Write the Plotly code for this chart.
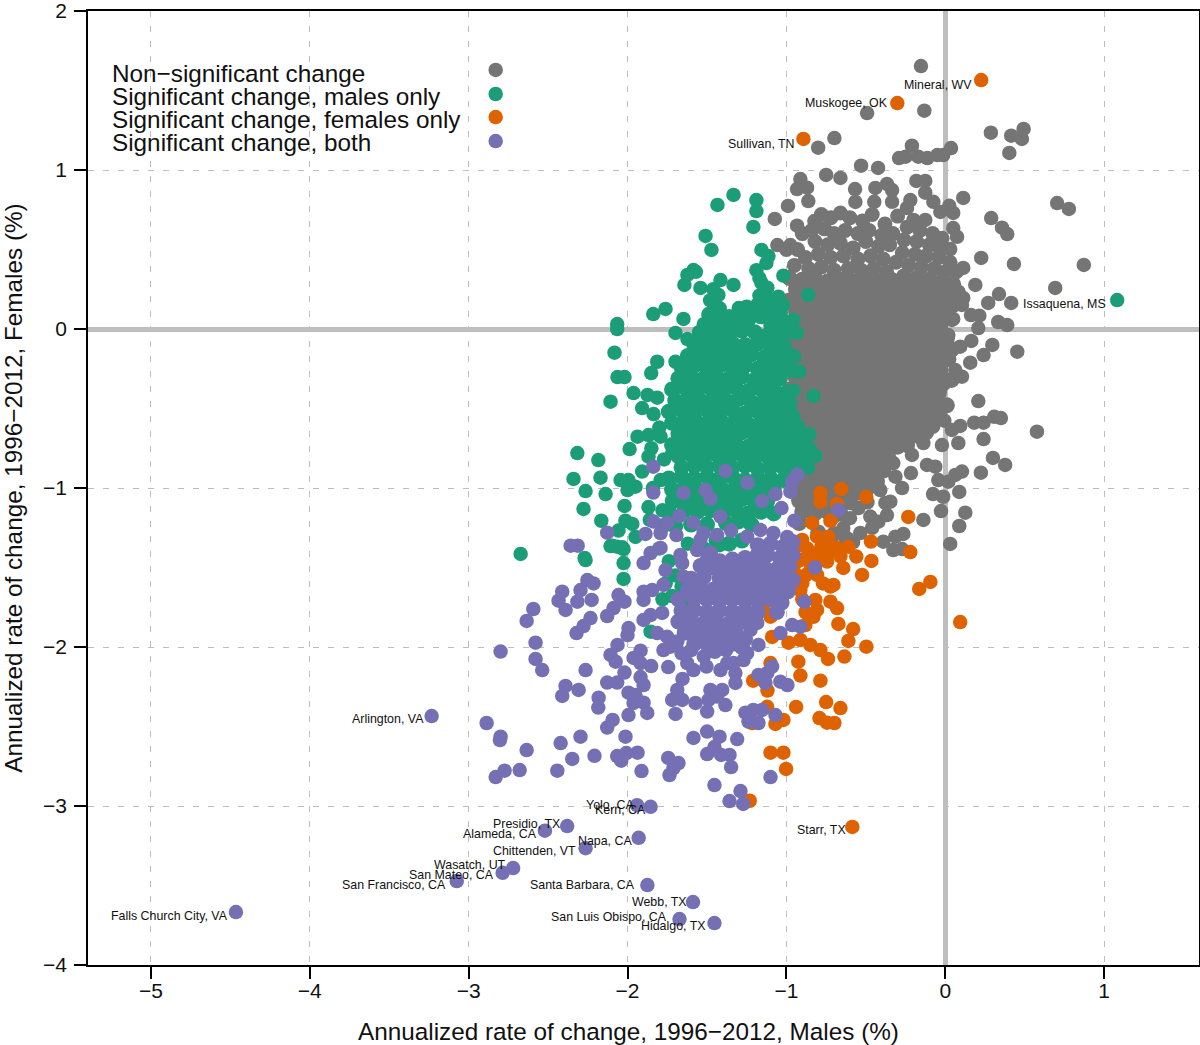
import plotly.graph_objects as go

# Non-significant change: scattered counties around the outside of the cloud
grey_outer = [
(-0.153,1.654),(-0.132,1.373),(-0.492,1.358),(-0.698,1.201),(-0.80,1.14),(-0.21,1.153),(-0.291,1.075),(-0.25,1.084),
(-0.17,1.084),(-0.113,1.075),(-0.05,1.094),(-0.013,1.094),(0.036,1.138),(0.287,1.235),(0.415,1.216),(0.493,1.258),
(0.482,1.195),(0.403,1.107),(-0.53,1.027),(-0.423,1.013),(-0.75,0.969),(-0.66,0.95),(-0.912,0.943),(-0.87,0.889),
(-0.933,0.88),(-0.862,0.805),(-0.99,0.774),(-1.073,0.692),(-0.568,0.88),(-0.566,0.799),(-0.44,0.887),(-0.367,0.912),
(-0.335,0.874),(-0.335,0.80),(-0.447,0.80),(-0.182,0.931),(-0.126,0.931),(-0.126,0.857),(-0.075,0.80),(-0.22,0.811),
(-0.241,0.761),(0.025,0.775),(-0.031,0.736),(0.05,0.73),(0.113,0.824),(-0.824,0.679),(-0.933,0.65),(-0.20,0.686),
(-0.126,0.686),(0.289,0.698),(0.357,0.637),(0.39,0.597),(0.704,0.792),(0.778,0.755),(0.226,0.447),(0.432,0.409),
(0.872,0.403),(0.692,0.258),(0.189,0.277),(0.338,0.22),(0.27,0.164),(0.415,0.164),(0.162,0.088),(0.214,0.084),
(0.208,0.006),(0.333,0.044),(0.39,0.025),(0.05,0.063),(0.019,-0.038),(0.113,0.195),(0.105,0.151),(0.113,0.384),
(0.05,0.635),(0.074,0.58),(0.031,0.503),(-0.044,0.516),(0.164,-0.075),(0.296,-0.10),(0.241,-0.164),(0.453,-0.143),
(0.105,-0.30),(0.063,-0.258),(0.157,-0.212),(0.094,-0.111),(0.042,0.057),(0.208,-0.453),(0.182,-0.589),(0.241,-0.589),
(0.308,-0.552),(0.35,-0.56),(0.577,-0.646),(0.241,-0.692),(0.30,-0.811),(0.377,-0.855),(0.224,-0.904),(-0.021,-0.73),
(-0.006,-0.577),(0.094,-0.61),(0.042,-0.635),(0.082,-0.717),(-0.115,-0.855),(-0.063,-0.866),(0.105,-0.897),(0.063,-0.918),
(0.019,-0.96),(-0.044,-0.95),(0.088,-1.025),(0.126,-1.155),(0.088,-1.239),(0.031,-1.352),(-0.027,-1.145),(-0.138,-1.201),
(-0.077,-1.038),(-0.013,-1.055),(-0.216,-0.906),(-0.272,-1.0),(-0.314,-0.929),(-0.21,-0.792),(-0.138,-0.717),(-0.264,-1.289),
(-0.314,-1.306),(-0.272,-1.384),(-0.327,-1.39),(-0.39,-1.338),(-0.377,-1.094),(-0.346,-1.086),(-0.367,-1.17),(-0.421,-1.212),
(-0.472,-1.18),(-0.547,-1.126),(-0.642,-1.252),(-0.535,-1.283),(-0.409,-1.013),(-0.492,-1.013),(-0.327,-0.843),
(-0.49,-1.09),(-0.60,-1.19),(-0.70,-1.18),(-0.46,-1.25),(-0.58,-1.34),(-1.057,0.528),(-0.975,0.528),
]

# Non-significant change: the looser upper part of the cloud
grey_top = [
(-0.78,0.72),(-0.72,0.70),(-0.66,0.73),(-0.60,0.70),(-0.52,0.68),(-0.46,0.72),(-0.38,0.66),(-0.30,0.71),(-0.24,0.64),(-0.16,0.62),
(-0.08,0.60),(-0.90,0.60),(-0.84,0.62),(-0.76,0.63),(-0.70,0.60),(-0.63,0.62),(-0.55,0.60),(-0.48,0.62),(-0.40,0.59),(-0.33,0.60),
(-0.26,0.56),(-0.18,0.55),(-0.10,0.53),(-0.02,0.57),(-1.00,0.50),(-0.93,0.50),(-0.82,0.55),(-0.74,0.53),(-0.66,0.54),(-0.58,0.51),
(-0.50,0.55),(-0.42,0.52),(-0.35,0.53),(-0.27,0.48),(-0.19,0.47),(-0.12,0.46),(-0.04,0.45),(0.03,0.42),(-0.88,0.45),(-0.80,0.47),
(-0.72,0.45),(-0.64,0.46),(-0.55,0.44),(-0.47,0.46),(-0.39,0.44),(-0.31,0.42),(-0.23,0.40),(-0.15,0.39),(-0.07,0.38),(0.00,0.36),
(0.07,0.36),(-0.95,0.40),(-0.86,0.38),(-0.78,0.39),(-0.70,0.37),(-0.61,0.38),(-0.53,0.37),(-0.45,0.38),(-0.37,0.36),
]

# Non-significant change: the solid centre of the cloud
grey_core = [
(-0.98,0.32),(-0.90,0.31),(-0.82,0.32),(-0.74,0.30),(-0.66,0.31),(-0.58,0.30),(-0.50,0.31),(-0.42,0.30),(-0.34,0.31),(-0.26,0.33),(-0.18,0.32),(-0.10,0.31),(-0.02,0.30),(0.05,0.28),
(-0.94,0.25),(-0.86,0.24),(-0.78,0.25),(-0.70,0.24),(-0.62,0.24),(-0.54,0.23),(-0.46,0.24),(-0.38,0.23),(-0.30,0.25),(-0.22,0.25),(-0.14,0.24),(-0.06,0.24),(0.02,0.22),(0.08,0.23),
(-0.98,0.18),(-0.90,0.17),(-0.82,0.18),(-0.74,0.17),(-0.66,0.17),(-0.58,0.16),(-0.50,0.17),(-0.42,0.16),(-0.34,0.17),(-0.26,0.18),(-0.18,0.17),(-0.10,0.17),(-0.02,0.16),(0.05,0.15),
(-0.94,0.11),(-0.86,0.10),(-0.78,0.11),(-0.70,0.10),(-0.62,0.10),(-0.54,0.09),(-0.46,0.10),(-0.38,0.09),(-0.30,0.10),(-0.22,0.11),(-0.14,0.10),(-0.06,0.10),(0.01,0.09),
(-0.98,0.04),(-0.90,0.03),(-0.82,0.04),(-0.74,0.03),(-0.66,0.03),(-0.58,0.02),(-0.50,0.03),(-0.42,0.02),(-0.34,0.03),(-0.26,0.04),(-0.18,0.03),(-0.10,0.03),(-0.03,0.02),
(-0.94,-0.03),(-0.86,-0.04),(-0.78,-0.03),(-0.70,-0.04),(-0.62,-0.04),(-0.54,-0.05),(-0.46,-0.04),(-0.38,-0.05),(-0.30,-0.04),(-0.22,-0.03),(-0.14,-0.04),(-0.06,-0.04),(0.01,-0.06),
(-0.98,-0.10),(-0.90,-0.11),(-0.82,-0.10),(-0.74,-0.11),(-0.66,-0.11),(-0.58,-0.12),(-0.50,-0.11),(-0.42,-0.12),(-0.34,-0.11),(-0.26,-0.10),(-0.18,-0.11),(-0.10,-0.11),(-0.03,-0.12),(0.04,-0.13),
(-0.94,-0.17),(-0.86,-0.18),(-0.78,-0.17),(-0.70,-0.18),(-0.62,-0.18),(-0.54,-0.19),(-0.46,-0.18),(-0.38,-0.19),(-0.30,-0.18),(-0.22,-0.17),(-0.14,-0.18),(-0.06,-0.18),(0.02,-0.19),
(-0.98,-0.24),(-0.90,-0.25),(-0.82,-0.24),(-0.74,-0.25),(-0.66,-0.25),(-0.58,-0.26),(-0.50,-0.25),(-0.42,-0.26),(-0.34,-0.25),(-0.26,-0.24),(-0.18,-0.25),(-0.10,-0.25),(-0.03,-0.26),(0.04,-0.32),
(-0.94,-0.31),(-0.86,-0.32),(-0.78,-0.31),(-0.70,-0.32),(-0.62,-0.32),(-0.54,-0.33),(-0.46,-0.32),(-0.38,-0.33),(-0.30,-0.32),(-0.22,-0.31),(-0.14,-0.32),(-0.06,-0.32),(-0.01,-0.34),
(-0.98,-0.38),(-0.90,-0.39),(-0.82,-0.38),(-0.74,-0.39),(-0.66,-0.39),(-0.58,-0.40),(-0.50,-0.39),(-0.42,-0.40),(-0.34,-0.39),(-0.26,-0.38),(-0.18,-0.39),(-0.10,-0.39),(-0.04,-0.40),
(-0.94,-0.45),(-0.86,-0.46),(-0.78,-0.45),(-0.70,-0.46),(-0.62,-0.46),(-0.54,-0.47),(-0.46,-0.46),(-0.38,-0.47),(-0.30,-0.46),(-0.22,-0.45),(-0.14,-0.46),(-0.06,-0.47),(0.01,-0.48),
(-0.98,-0.52),(-0.90,-0.53),(-0.82,-0.52),(-0.74,-0.53),(-0.66,-0.53),(-0.58,-0.54),(-0.50,-0.53),(-0.42,-0.54),(-0.34,-0.53),(-0.26,-0.52),(-0.18,-0.53),(-0.10,-0.53),(-0.04,-0.53),
(-0.94,-0.59),(-0.86,-0.60),(-0.78,-0.59),(-0.70,-0.60),(-0.62,-0.60),(-0.54,-0.61),(-0.46,-0.60),(-0.38,-0.61),(-0.30,-0.60),(-0.22,-0.59),(-0.14,-0.60),(-0.08,-0.61),
(-0.98,-0.66),(-0.90,-0.67),(-0.82,-0.66),(-0.74,-0.67),(-0.66,-0.67),(-0.58,-0.68),(-0.50,-0.67),(-0.42,-0.68),(-0.34,-0.67),(-0.26,-0.66),(-0.18,-0.67),(-0.12,-0.65),
(-0.94,-0.73),(-0.86,-0.74),(-0.78,-0.73),(-0.70,-0.74),(-0.62,-0.74),(-0.54,-0.75),(-0.46,-0.74),(-0.38,-0.75),(-0.30,-0.74),(-0.24,-0.73),
(-0.98,-0.80),(-0.90,-0.81),(-0.82,-0.80),(-0.74,-0.81),(-0.66,-0.81),(-0.58,-0.82),(-0.50,-0.81),(-0.42,-0.82),(-0.36,-0.80),
(-0.94,-0.87),(-0.86,-0.88),(-0.78,-0.87),(-0.70,-0.88),(-0.62,-0.88),(-0.54,-0.89),(-0.46,-0.88),(-0.39,-0.89),
(-0.98,-0.94),(-0.90,-0.95),(-0.82,-0.94),(-0.74,-0.95),(-0.66,-0.95),(-0.58,-0.96),(-0.50,-0.95),(-0.43,-0.96),
(-0.94,-1.01),(-0.86,-1.02),(-0.78,-1.01),(-0.70,-1.02),(-0.62,-1.02),(-0.55,-1.03),
(-0.92,-1.08),(-0.84,-1.09),(-0.76,-1.08),(-0.68,-1.09),(-0.60,-1.09),
(-0.90,-1.15),(-0.82,-1.16),(-0.74,-1.15),(-0.66,-1.16),(-0.92,-1.22),(-0.80,-1.28),(-0.70,-1.29),(-0.62,-1.32),
]

# Significant change, males only: scattered counties
green_outer = [
(-1.333,0.843),(-1.434,0.78),(-1.189,0.811),(-1.189,0.742),(-1.208,0.642),(-1.509,0.585),(-1.472,0.497),(-1.157,0.497),(-1.113,0.459),(-1.126,0.415),
(-1.189,0.37),(-1.157,0.29),(-1.019,0.335),(-1.05,0.203),(-0.862,0.214),(-0.956,0.057),(-1.10,0.025),(-1.415,0.308),(-1.333,0.277),(-1.428,0.214),(-1.49,0.094),
(-1.30,0.132),(-1.415,0.044),(-1.145,0.138),(-1.585,0.371),(-1.623,0.34),(-1.642,0.277),(-1.541,0.258),(-1.57,0.36),(-1.46,0.25),(-1.45,0.16),(-1.22,0.12),(-1.25,0.14),(-1.08,0.12),(-1.02,0.15),
(-1.838,0.094),(-1.761,0.126),(-2.065,0.031),(-2.065,0.0),(-2.082,-0.149),(-1.698,-0.025),(-1.648,0.063),(-1.623,-0.063),(-1.49,0.088),(-2.063,-0.302),(-2.019,-0.302),(-2.107,-0.457),
(-1.962,-0.403),(-1.874,-0.415),(-1.813,-0.432),(-1.908,-0.497),(-1.836,-0.535),(-1.813,-0.206),(-1.851,-0.277),(-1.698,-0.206),(-1.937,-0.677),(-1.868,-0.667),(-1.792,-0.677),(-1.719,-0.78),
(-1.987,-0.755),(-2.316,-0.78),(-2.184,-0.824),(-2.34,-0.943),(-2.17,-0.935),(-2.264,-1.019),(-2.138,-1.038),(-2.277,-1.132),(-2.019,-1.113),(-2.044,-0.95),(-1.994,-0.95),(-1.95,-0.992),(-2.0,-1.013),
(-1.868,-0.803),(-1.908,-0.897),(-2.165,-1.206),(-2.013,-1.206),(-1.97,-1.226),(-2.057,-1.268),(-1.95,-1.308),(-2.107,-1.365),(-2.065,-1.369),(-2.025,-1.384),(-2.27,-1.44),(-1.868,-1.12),(-1.792,-0.95),
(-2.673,-1.415),(-2.264,-1.453),(-2.096,-1.363),(-2.033,-1.373),(-2.025,-1.472),(-2.025,-1.572),(-1.855,-1.904),(-0.933,-0.025),(-0.995,-0.017),(-0.95,-0.174),(-0.918,-0.268),(-0.956,-0.388),
(-0.83,-0.421),(-0.925,-0.614),(-0.855,-0.66),(-0.818,-0.797),(-0.864,-0.874),(-1.85,-0.75),(-1.80,-0.62),(-1.77,-0.82),(-1.84,-1.0),(-1.72,-1.08),(-1.86,-1.2),(-1.78,-1.14),
(-1.48,0.18),(-1.42,0.13),(-1.36,0.08),(-1.30,0.05),(-1.24,0.13),(-1.17,0.21),(-1.12,0.26),(-1.17,0.32),(-1.09,0.07),(-1.03,0.03),(-0.97,-0.02),(-1.46,0.05),(-1.52,0.03),(-1.55,-0.02),(-1.44,0.10),
]

# Significant change, males only: the solid part of the cloud
green_core = [
(-1.40,0.03),(-1.32,0.05),(-1.24,0.06),(-1.16,0.08),(-1.28,0.10),(-1.18,0.15),(-1.10,0.18),(-1.04,0.10),(-1.00,0.04),
(-1.52,-0.03),(-1.44,-0.02),(-1.36,-0.03),(-1.28,-0.01),(-1.20,-0.02),(-1.12,-0.04),(-1.05,-0.03),
(-1.58,-0.10),(-1.50,-0.09),(-1.42,-0.10),(-1.34,-0.09),(-1.26,-0.10),(-1.18,-0.09),(-1.10,-0.11),(-1.02,-0.10),
(-1.62,-0.17),(-1.54,-0.16),(-1.46,-0.17),(-1.38,-0.16),(-1.30,-0.17),(-1.22,-0.16),(-1.14,-0.18),(-1.06,-0.17),(-0.99,-0.16),
(-1.66,-0.24),(-1.58,-0.23),(-1.50,-0.24),(-1.42,-0.23),(-1.34,-0.24),(-1.26,-0.23),(-1.18,-0.25),(-1.10,-0.24),(-1.02,-0.24),(-0.97,-0.26),
(-1.68,-0.31),(-1.60,-0.30),(-1.52,-0.31),(-1.44,-0.30),(-1.36,-0.31),(-1.28,-0.30),(-1.20,-0.32),(-1.12,-0.31),(-1.04,-0.31),
(-1.72,-0.38),(-1.64,-0.37),(-1.56,-0.38),(-1.48,-0.37),(-1.40,-0.38),(-1.32,-0.37),(-1.24,-0.39),(-1.16,-0.38),(-1.08,-0.38),(-1.00,-0.40),
(-1.70,-0.45),(-1.62,-0.44),(-1.54,-0.45),(-1.46,-0.44),(-1.38,-0.45),(-1.30,-0.44),(-1.22,-0.46),(-1.14,-0.45),(-1.06,-0.45),(-0.98,-0.47),
(-1.74,-0.52),(-1.66,-0.51),(-1.58,-0.52),(-1.50,-0.51),(-1.42,-0.52),(-1.34,-0.51),(-1.26,-0.53),(-1.18,-0.52),(-1.10,-0.52),(-1.02,-0.53),(-0.96,-0.55),
(-1.72,-0.59),(-1.64,-0.58),(-1.56,-0.59),(-1.48,-0.58),(-1.40,-0.59),(-1.32,-0.58),(-1.24,-0.60),(-1.16,-0.59),(-1.08,-0.59),(-1.00,-0.60),
(-1.68,-0.66),(-1.60,-0.65),(-1.52,-0.66),(-1.44,-0.65),(-1.36,-0.66),(-1.28,-0.65),(-1.20,-0.67),(-1.12,-0.66),(-1.04,-0.66),(-0.96,-0.67),(-0.90,-0.68),
(-1.72,-0.73),(-1.64,-0.72),(-1.56,-0.73),(-1.48,-0.72),(-1.40,-0.73),(-1.32,-0.72),(-1.24,-0.74),(-1.16,-0.73),(-1.08,-0.73),(-1.00,-0.74),(-0.92,-0.74),(-0.86,-0.75),
(-1.68,-0.80),(-1.60,-0.79),(-1.52,-0.80),(-1.44,-0.79),(-1.36,-0.80),(-1.28,-0.79),(-1.20,-0.81),(-1.12,-0.80),(-1.04,-0.80),(-0.96,-0.81),(-0.88,-0.81),
(-1.66,-0.87),(-1.58,-0.86),(-1.50,-0.87),(-1.42,-0.86),(-1.34,-0.87),(-1.26,-0.86),(-1.18,-0.88),(-1.10,-0.87),(-1.02,-0.87),(-0.94,-0.88),
(-1.74,-0.94),(-1.66,-0.93),(-1.58,-0.94),(-1.50,-0.93),(-1.42,-0.94),(-1.34,-0.93),(-1.26,-0.95),(-1.18,-0.94),(-1.10,-0.94),(-1.02,-0.95),
(-1.72,-1.01),(-1.64,-1.00),(-1.56,-1.01),(-1.48,-1.00),(-1.40,-1.01),(-1.32,-1.00),(-1.24,-1.02),(-1.16,-1.01),(-1.08,-1.01),
(-1.68,-1.08),(-1.60,-1.07),(-1.52,-1.08),(-1.44,-1.07),(-1.36,-1.08),(-1.28,-1.07),(-1.20,-1.09),(-1.12,-1.08),
(-1.74,-1.15),(-1.64,-1.14),(-1.56,-1.15),(-1.48,-1.14),(-1.40,-1.15),(-1.32,-1.14),(-1.24,-1.16),(-1.16,-1.15),(-1.08,-1.16),
(-1.78,-1.24),(-1.70,-1.24),(-1.60,-1.23),(-1.50,-1.23),(-1.38,-1.22),(-1.30,-1.21),(-1.22,-1.23),(-1.44,-1.33),(-1.36,-1.35),(-1.28,-1.33),
]

# Significant change, males only: narrow strips left of the purple cloud
green_strips = [
(-1.80,-1.38),(-1.74,-1.46),(-1.70,-1.55),(-1.76,-1.60),(-1.66,-1.62),(-1.62,-1.35),(-1.52,-1.38),(-1.42,-1.36),(-1.78,-1.70),(-1.72,-1.68),(-1.62,-1.70),
]

# Significant change, females only
orange_points = [
(-0.786,-1.031),(-0.786,-1.086),(-0.654,-1.006),(-0.681,-1.10),(-0.497,-1.057),(-0.838,-1.22),(-0.723,-1.206),(-0.233,-1.182),(-0.901,-1.327),(-0.912,-1.358),
(-0.807,-1.306),(-0.736,-1.306),(-0.468,-1.337),(-0.61,-1.369),(-0.56,-1.431),(-0.465,-1.459),(-0.22,-1.403),(-0.849,-1.409),(-0.786,-1.421),(-0.723,-1.401),
(-0.681,-1.377),(-0.912,-1.453),(-0.83,-1.472),(-0.744,-1.463),(-0.642,-1.503),(-0.524,-1.547),(-0.164,-1.635),(-0.094,-1.591),(0.094,-1.843),(-0.744,-1.369),
(-0.692,-1.39),(-0.933,-1.463),(-0.862,-1.535),(-0.807,-1.547),(-0.723,-1.62),(-0.704,-1.61),(-0.912,-1.642),(-0.818,-1.704),(-0.807,-1.767),(-0.83,-1.81),
(-0.723,-1.715),(-0.681,-1.755),(-0.881,-1.862),(-0.673,-1.855),(-0.58,-1.887),(-0.61,-1.962),(-0.497,-1.998),(-0.635,-2.06),(-1.10,-1.809),(-1.145,-1.767),
(-1.09,-1.937),(-0.987,-1.973),(-0.912,-1.956),(-0.849,-1.987),(-0.786,-2.019),(-0.738,-2.075),(-1.10,-2.101),(-1.209,-2.212),(-1.119,-2.274),(-0.925,-2.092),
(-0.912,-2.18),(-0.786,-2.212),(-0.939,-2.377),(-0.75,-2.346),(-0.66,-2.384),(-0.792,-2.447),(-0.744,-2.476),(-0.698,-2.478),(-1.121,-2.376),(-1.069,-2.484),
(-1.019,-2.459),(-1.216,-2.478),(-1.10,-2.665),(-1.019,-2.665),(-1.002,-2.767),(-1.231,-2.967),(-0.88,-1.55),(-0.90,-1.70),(-0.86,-1.43),(-0.77,-1.60),
(-0.87,-1.38),(-0.78,-1.37),(-0.95,-1.53),(-0.90,-1.60),(-0.85,-1.47),(-0.66,-1.43),(-0.88,-1.78),
]

# Significant change, both: scattered counties
purple_outer = [
(-2.799,-2.029),(-2.593,-1.761),(-2.635,-1.836),(-2.579,-1.973),(-2.579,-2.075),(-2.537,-2.145),(-2.358,-1.363),(-2.314,-1.363),(-2.411,-1.652),(-2.434,-1.709),
(-2.39,-1.767),(-2.316,-1.715),(-2.296,-1.642),(-2.253,-1.579),(-2.214,-1.6),(-2.226,-1.704),(-2.128,-1.805),(-2.088,-1.755),(-2.057,-1.673),(-2.019,-1.715),
(-2.233,-1.818),(-2.277,-1.868),(-2.321,-1.912),(-1.994,-1.881),(-2.0,-1.925),(-2.063,-1.987),(-2.107,-2.05),(-2.075,-2.092),(-2.019,-2.161),(-1.918,-2.023),
(-1.962,-2.069),(-1.918,-2.101),(-1.851,-2.12),(-1.744,-2.126),(-2.264,-2.145),(-2.128,-2.224),(-2.065,-2.224),(-1.918,-2.189),(-1.899,-2.239),(-2.39,-2.245),
(-2.411,-2.308),(-2.308,-2.27),(-1.994,-2.287),(-1.95,-2.302),(-1.962,-2.352),(-1.899,-2.35),(-1.876,-2.415),(-1.994,-2.428),(-2.182,-2.319),(-2.184,-2.381),
(-2.094,-2.459),(-2.128,-2.507),(-1.698,-2.421),(-2.013,-2.564),(-2.887,-2.478),(-2.799,-2.564),(-2.803,-2.585),(-2.635,-2.648),(-2.421,-2.604),(-2.296,-2.564),
(-2.348,-2.704),(-2.208,-2.684),(-2.442,-2.778),(-2.679,-2.774),(-2.774,-2.778),(-2.83,-2.818),(-2.065,-2.686),(-2.04,-2.715),(-2.008,-2.667),(-1.937,-2.665),
(-1.912,-2.78),(-1.744,-2.698),(-1.679,-2.73),(-1.711,-2.761),(-1.736,-2.805),(-1.585,-2.572),(-1.499,-2.532),(-1.421,-2.564),(-1.31,-2.579),(-1.499,-2.673),
(-1.453,-2.629),(-1.411,-2.679),(-1.358,-2.679),(-1.348,-2.755),(-1.453,-2.868),(-1.289,-2.906),(-1.358,-2.969),(-1.272,-2.987),(-1.10,-2.818),(-1.719,-2.333),
(-1.656,-2.333),(-1.687,-2.27),(-1.572,-2.352),(-1.478,-2.27),(-1.404,-2.27),(-1.384,-2.365),(-1.499,-2.406),(-1.49,-2.333),(-1.436,-2.312),(-1.654,-2.201),
(-1.624,-2.101),(-1.585,-2.145),(-1.503,-2.123),(-1.415,-2.145),(-1.373,-2.101),(-1.321,-2.226),(-1.321,-2.164),(-1.258,-2.413),(-1.208,-2.396),(-1.153,-2.396),
(-1.069,-2.428),(-1.239,-2.469),(-1.176,-2.478),(-1.176,-2.176),(-1.121,-2.164),(-1.09,-2.123),(-1.132,-2.226),(-1.038,-2.218),(-0.994,-2.239),(-1.038,-1.912),
(-0.964,-1.862),(-0.912,-1.872),(-0.887,-1.715),(-1.226,-1.893),(-1.176,-1.987),(-1.184,-1.849),(-1.247,-2.038),(-1.27,-2.082),(-1.333,-2.101),(-1.838,-0.866),
(-1.384,-0.893),(-1.245,-0.967),(-1.648,-1.031),(-1.838,-1.029),(-1.509,-1.013),(-1.478,-1.069),(-1.153,-1.082),(-1.069,-1.038),(-1.031,-1.126),(-0.975,-1.023),
(-0.964,-0.96),(-0.931,-0.916),(-0.95,-1.206),(-0.673,-1.138),(-1.673,-1.176),(-1.585,-1.218),(-1.415,-1.18),(-1.836,-1.211),(-1.75,-1.22),(-2.128,-1.281),
(-1.887,-1.289),(-1.792,-1.283),(-1.692,-1.296),(-1.522,-1.283),(-1.436,-1.296),(-1.348,-1.268),(-1.247,-1.306),(-1.164,-1.264),(-1.082,-1.283),(-0.995,-1.308),
(-1.899,-1.472),(-1.855,-1.409),(-1.792,-1.377),(-1.899,-1.704),(-1.899,-1.652),(-1.845,-1.642),(-1.774,-1.61),(-1.899,-1.83),(-1.855,-1.799),(-1.782,-1.786),
(-1.813,-1.912),(-1.75,-1.936),(-1.687,-1.966),(-1.774,-2.019),(-1.73,-1.998),(-1.667,-1.421),(-1.656,-1.472),(-1.648,-1.558),(-1.761,-1.516),(-1.541,-1.327),(-1.562,-1.39),
(-0.82,-1.50),(-1.66,-2.04),(-1.60,-2.02),(-1.45,-2.03),(-1.38,-2.02),(-1.52,-2.06),
]

# Significant change, both: the solid part of the cloud
purple_core = [
(-1.48,-1.41),(-1.18,-1.36),(-1.10,-1.35),(-1.02,-1.37),(-0.96,-1.34),
(-1.50,-1.46),(-1.42,-1.46),(-1.34,-1.45),(-1.26,-1.44),(-1.18,-1.42),(-1.12,-1.42),(-1.04,-1.44),(-0.96,-1.42),
(-1.54,-1.49),(-1.46,-1.50),(-1.38,-1.50),(-1.30,-1.51),(-1.22,-1.49),(-1.14,-1.50),(-1.06,-1.51),(-0.98,-1.49),
(-1.60,-1.57),(-1.52,-1.56),(-1.42,-1.57),(-1.34,-1.57),(-1.26,-1.56),(-1.18,-1.57),(-1.10,-1.58),(-1.02,-1.56),(-0.96,-1.58),
(-1.62,-1.64),(-1.54,-1.63),(-1.46,-1.64),(-1.38,-1.64),(-1.30,-1.63),(-1.22,-1.64),(-1.14,-1.65),(-1.06,-1.63),(-0.99,-1.65),
(-1.68,-1.70),(-1.58,-1.70),(-1.50,-1.70),(-1.42,-1.71),(-1.34,-1.70),(-1.26,-1.71),(-1.18,-1.71),(-1.10,-1.70),(-1.03,-1.72),
(-1.66,-1.77),(-1.58,-1.77),(-1.50,-1.78),(-1.42,-1.77),(-1.34,-1.78),(-1.26,-1.77),(-1.18,-1.78),(-1.06,-1.78),
(-1.68,-1.84),(-1.60,-1.84),(-1.52,-1.85),(-1.44,-1.84),(-1.36,-1.85),(-1.28,-1.84),(-1.24,-1.80),
(-1.64,-1.91),(-1.56,-1.92),(-1.48,-1.91),(-1.40,-1.92),(-1.32,-1.91),(-1.26,-1.95),
(-1.58,-1.98),(-1.50,-1.98),(-1.42,-1.98),(-1.34,-1.98),(-1.28,-2.00),
]

# Named counties
label_names = ["Falls Church City, VA","San Francisco, CA","San Mateo, CA","Wasatch, UT","Chittenden, VT","Napa, CA","Alameda, CA","Presidio, TX",
               "Yolo, CA","Kern, CA","Santa Barbara, CA","Webb, TX","San Luis Obispo, CA","Hidalgo, TX","Arlington, VA",
               "Starr, TX","Sullivan, TN","Muskogee, OK","Mineral, WV","Issaquena, MS"]
label_x = [-4.465,-3.075,-2.786,-2.72,-2.264,-1.93,-2.52,-2.38,-1.94,-1.855,-1.875,-1.588,-1.673,-1.453,-3.233,-0.585,-0.893,-0.302,0.226,1.082]
label_y = [-3.667,-3.472,-3.42,-3.39,-3.265,-3.20,-3.155,-3.126,-2.995,-3.005,-3.497,-3.604,-3.711,-3.736,-2.434,-3.132,1.195,1.421,1.566,0.182]
label_group = ["both"]*15 + ["female"]*4 + ["male"]
label_dx = [-6,-9,-7,-5,-8,-5,-6,-5,-1,-3,-10,-4,-10,-6,-6,-4,-6,-7,-7,-9]
label_dy = [-4,-4,-2,3,-3,-3,-3,2,0,-3,0,0,2,-3,-3,-3,-5,0,-5,-4]

legend_labels = ["Non\u2212significant change","Significant change, males only","Significant change, females only","Significant change, both"]
legend_key_x = [-2.83,-2.83,-2.83,-2.83]
legend_key_y = [1.629,1.478,1.333,1.182]
legend_text_y = [1.61,1.465,1.32,1.17]

GREY, GREEN, ORANGE, PURPLE = "#757575", "#1B9E77", "#DE6300", "#7570B3"
MARKER = 14.5
SOLID = 16
FONT = "Liberation Sans, Arial, sans-serif"
INK = "#111111"

def labelled(group):
    return [(x, y) for x, y, g in zip(label_x, label_y, label_group) if g == group]

layers = [
    ("Non\u2212significant change", grey_core, GREY, SOLID),
    ("Non\u2212significant change", grey_top, GREY, 15),
    ("Non\u2212significant change", grey_outer, GREY, MARKER),
    ("Significant change, males only", green_core, GREEN, SOLID),
    ("Significant change, males only", green_outer + green_strips + labelled("male"), GREEN, MARKER),
    ("Significant change, females only", orange_points + labelled("female"), ORANGE, MARKER),
    ("Significant change, both", purple_core, PURPLE, SOLID),
    ("Significant change, both", purple_outer + labelled("both"), PURPLE, MARKER),
]

fig = go.Figure()
for name, pts, color, size in layers:
    fig.add_trace(go.Scatter(x=[p[0] for p in pts], y=[p[1] for p in pts], mode="markers", name=name,
                             marker=dict(size=size, color=color, line=dict(width=0)),
                             showlegend=False, hoverinfo="x+y+name"))

fig.add_trace(go.Scatter(x=legend_key_x, y=legend_key_y, mode="markers", showlegend=False, hoverinfo="skip",
                         marker=dict(size=MARKER, color=[GREY, GREEN, ORANGE, PURPLE], line=dict(width=0))))

annotations = []
for name, x, y, dx, dy in zip(label_names, label_x, label_y, label_dx, label_dy):
    annotations.append(dict(x=x, y=y, text=name, showarrow=False, xanchor="right", yanchor="middle",
                            xshift=dx, yshift=dy, font=dict(family=FONT, size=12.4, color=INK)))
for text, y in zip(legend_labels, legend_text_y):
    annotations.append(dict(x=-5.256, y=y, text=text, showarrow=False, xanchor="left", yanchor="middle",
                            font=dict(family=FONT, size=24.3, color=INK)))
annotations.append(dict(xref="paper", yref="paper", x=(628-88)/1111, y=(965-1031)/954,
                        text="Annualized rate of change, 1996\u22122012, Males (%)", showarrow=False,
                        xanchor="center", yanchor="middle", font=dict(family=FONT, size=24.3, color=INK)))

axis_common = dict(showline=True, linecolor="#000000", linewidth=1.5, mirror=True, ticks="outside", ticklen=12, tickwidth=1.5,
                   tickcolor="#000000", showgrid=True, gridcolor="#bdbdbd", griddash="6px,9px", gridwidth=1,
                   zeroline=True, zerolinecolor="#bebebe", zerolinewidth=4.5, automargin=False,
                   ticklabeloverflow="allow",
                   tickfont=dict(family=FONT, size=21, color=INK))

fig.update_layout(
    width=1200, height=1045, autosize=False,
    paper_bgcolor="#ffffff", plot_bgcolor="#ffffff",
    margin=dict(l=88, r=1, t=11, b=80, pad=0),
    font=dict(family=FONT),
    annotations=annotations,
    xaxis=dict(range=[-5.396, 1.597], tickvals=[-5,-4,-3,-2,-1,0,1], ticklabelstandoff=-6, **axis_common),
    yaxis=dict(range=[-4, 2], tickvals=[-4,-3,-2,-1,0,1,2], ticklabelstandoff=3,
               title=dict(text="Annualized rate of change, 1996\u22122012, Females (%)", standoff=27,
                          font=dict(family=FONT, size=24.3, color=INK)), **axis_common),
)
fig.write_html("out.html", config={"displayModeBar": False},
               post_script="document.body.style.margin='0';document.documentElement.style.overflow='hidden';")
